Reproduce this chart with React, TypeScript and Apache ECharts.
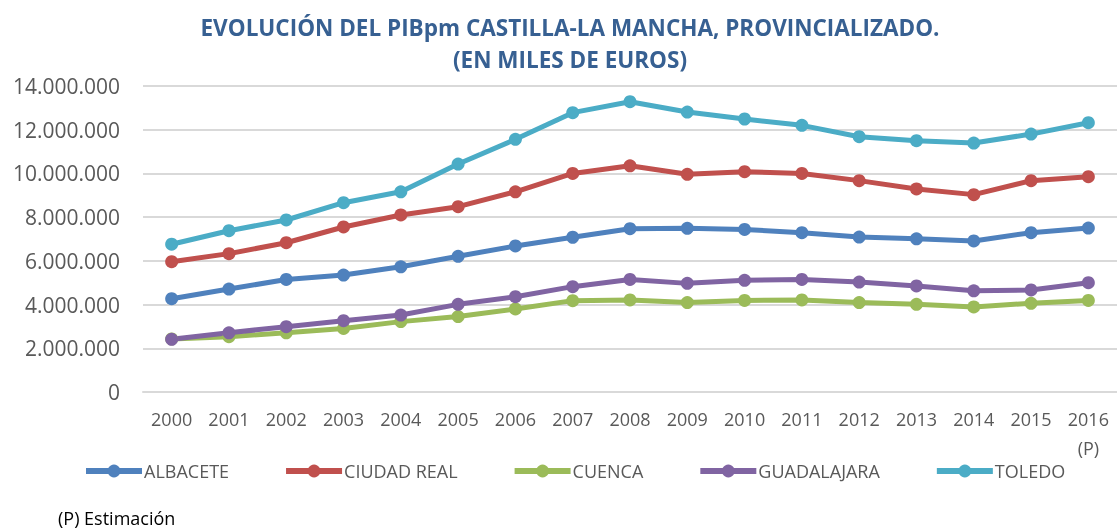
import React, { useEffect, useRef } from "react";
import * as echarts from "echarts";

const years = ["2000", "2001", "2002", "2003", "2004", "2005", "2006", "2007", "2008", "2009", "2010", "2011", "2012", "2013", "2014", "2015", "2016\n(P)"];

const albacete = [4270000, 4710000, 5150000, 5350000, 5730000, 6210000, 6680000, 7080000, 7470000, 7490000, 7440000, 7290000, 7090000, 7010000, 6910000, 7290000, 7500000];
const ciudadReal = [5960000, 6330000, 6830000, 7550000, 8100000, 8480000, 9160000, 10000000, 10350000, 9960000, 10080000, 10000000, 9670000, 9290000, 9030000, 9670000, 9850000];
const cuenca = [2430000, 2530000, 2710000, 2910000, 3220000, 3450000, 3800000, 4180000, 4210000, 4090000, 4190000, 4210000, 4090000, 4010000, 3890000, 4060000, 4190000];
const guadalajara = [2410000, 2710000, 2990000, 3260000, 3520000, 4010000, 4360000, 4820000, 5150000, 4970000, 5110000, 5150000, 5030000, 4850000, 4630000, 4670000, 5000000];
const toledo = [6760000, 7380000, 7870000, 8660000, 9160000, 10430000, 11560000, 12780000, 13280000, 12810000, 12490000, 12200000, 11680000, 11500000, 11390000, 11800000, 12320000];

const seriesNames = ["ALBACETE", "CIUDAD REAL", "CUENCA", "GUADALAJARA", "TOLEDO"];
const seriesData = [albacete, ciudadReal, cuenca, guadalajara, toledo];
const colors = ["#4F81BD", "#C0504D", "#9BBB59", "#8064A2", "#4BACC6"];

const fmt = (v: number) => String(Math.round(v)).replace(/\B(?=(\d{3})+(?!\d))/g, ".");

export default function App() {
  const ref = useRef<HTMLDivElement>(null);
  useEffect(() => {
    if (!ref.current) return;
    const chart = echarts.init(ref.current, undefined, { renderer: "svg" });
    chart.setOption({
      animation: false,
      color: colors,
      title: {
        text: "EVOLUCIÓN DEL PIBpm CASTILLA-LA MANCHA, PROVINCIALIZADO.\n(EN MILES DE EUROS)",
        left: 565,
        top: 6,
        textAlign: "center",
        textStyle: {
          fontFamily: "Open Sans",
          fontWeight: "bold",
          fontSize: 22.5,
          lineHeight: 32,
          color: "#376092",
        },
      },
      grid: { left: 143, right: 0, top: 86, bottom: 137, containLabel: false },
      xAxis: {
        type: "category",
        data: years,
        boundaryGap: true,
        axisLine: { show: true, lineStyle: { color: "#D9D9D9", width: 2 } },
        axisTick: { show: false },
        axisLabel: {
          margin: 12,
          fontFamily: "Open Sans",
          fontSize: 18,
          lineHeight: 29,
          color: "#595959",
          interval: 0,
        },
      },
      yAxis: {
        type: "value",
        min: 0,
        max: 14000000,
        interval: 2000000,
        axisLine: { show: false },
        axisTick: { show: false },
        splitLine: { lineStyle: { color: "#D9D9D9", width: 2 } },
        axisLabel: {
          margin: 23,
          fontFamily: "Open Sans",
          fontSize: 21,
          color: "#595959",
          formatter: (v: number) => fmt(v),
        },
      },
      legend: {
        left: 78,
        top: 457,
        itemWidth: 56,
        itemHeight: 16,
        itemGap: 54,
        data: seriesNames,
        lineStyle: { width: 6 },
        textStyle: { fontFamily: "Open Sans", fontSize: 18, color: "#595959", padding: [0, 0, 0, -3] },
      },
      graphic: [
        {
          type: "text",
          left: 58,
          top: 508,
          style: { text: "(P) Estimación", fontFamily: "Open Sans", fontSize: 18, lineHeight: 20, fill: "#000000" },
        },
      ],
      series: seriesNames.map((name, i) => ({
        name,
        type: "line",
        data: seriesData[i],
        symbol: "circle",
        symbolSize: 13,
        lineStyle: { width: 5, color: colors[i] },
        itemStyle: { color: colors[i] },
      })),
    });
    return () => chart.dispose();
  }, []);
  return <div ref={ref} style={{ position: "fixed", left: 0, top: 0, width: 1117, height: 529 }} />;
}
